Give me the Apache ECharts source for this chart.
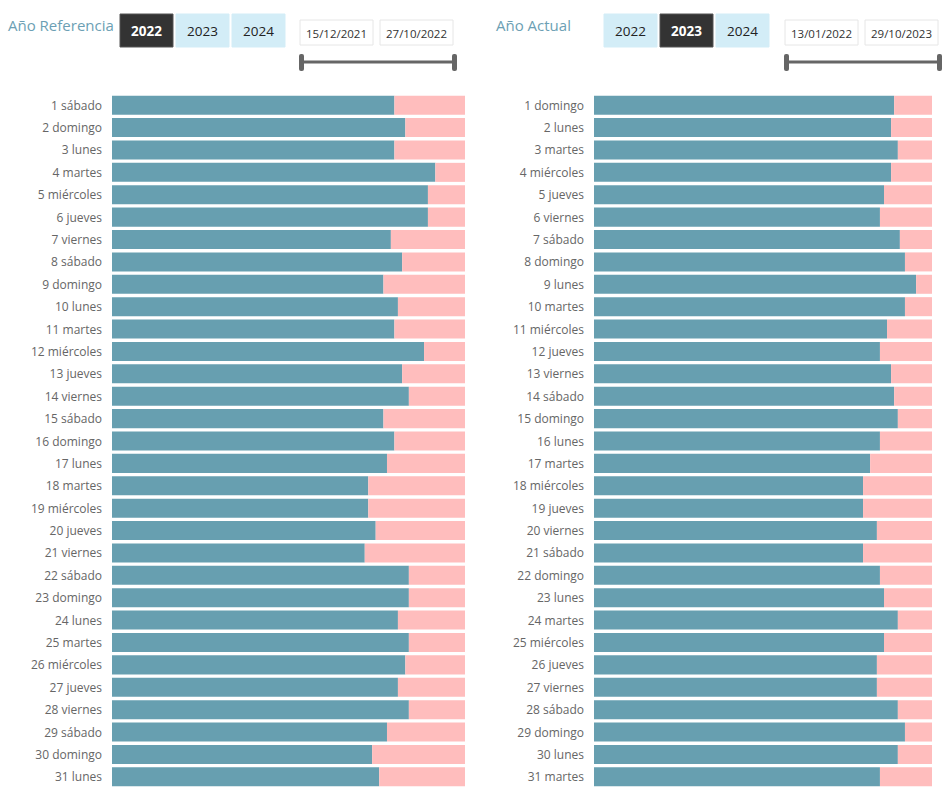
<!DOCTYPE html>
<html>
<head>
<meta charset="utf-8">
<script src="https://cdn.jsdelivr.net/npm/echarts@6/dist/echarts.min.js"></script>
<style>
  html, body { margin: 0; padding: 0; background: #fff; }
  #main { width: 945px; height: 800px; }
</style>
</head>
<body>
<div id="main"></div>
<script>
// dias del mes (referencia 2022 / actual 2023)
const refDays = ['1 sábado', '2 domingo', '3 lunes', '4 martes', '5 miércoles', '6 jueves', '7 viernes', '8 sábado',
  '9 domingo', '10 lunes', '11 martes', '12 miércoles', '13 jueves', '14 viernes', '15 sábado', '16 domingo',
  '17 lunes', '18 martes', '19 miércoles', '20 jueves', '21 viernes', '22 sábado', '23 domingo', '24 lunes',
  '25 martes', '26 miércoles', '27 jueves', '28 viernes', '29 sábado', '30 domingo', '31 lunes']
const actDays = ['1 domingo', '2 lunes', '3 martes', '4 miércoles', '5 jueves', '6 viernes', '7 sábado', '8 domingo',
  '9 lunes', '10 martes', '11 miércoles', '12 jueves', '13 viernes', '14 sábado', '15 domingo', '16 lunes',
  '17 martes', '18 miércoles', '19 jueves', '20 viernes', '21 sábado', '22 domingo', '23 lunes', '24 martes',
  '25 miércoles', '26 jueves', '27 viernes', '28 sábado', '29 domingo', '30 lunes', '31 martes']

// % cumplido (teal) por dia
const refDone = [80.0, 83.1, 80.0, 91.6, 89.5, 89.5, 79.0, 82.2, 76.9, 81.0, 80.0, 88.4, 82.2, 84.1, 76.9, 80.0,
  77.9, 72.6, 72.6, 74.7, 71.6, 84.1, 84.1, 81.0, 84.1, 83.1, 81.0, 84.1, 77.9, 73.7, 75.7]
const actDone = [88.8, 87.9, 89.9, 87.9, 85.8, 84.6, 90.5, 92.0, 95.3, 92.0, 86.7, 84.6, 87.9, 88.8, 89.9, 84.6,
  81.7, 79.6, 79.6, 83.7, 79.6, 84.6, 85.8, 89.9, 85.8, 83.7, 83.7, 89.9, 92.0, 89.9, 84.6]
// % restante (rosa)
const refRest = refDone.map(v => +(100 - v).toFixed(1))
const actRest = actDone.map(v => +(100 - v).toFixed(1))

const years = ['2022', '2023', '2024']
const refRange = ['15/12/2021', '27/10/2022']
const actRange = ['13/01/2022', '29/10/2023']

const TEAL = '#679fb0'
const PINK = '#ffbdbd'
const FONT = '"Segoe UI", "Open Sans", sans-serif'

const chart = echarts.init(document.getElementById('main'), null, { renderer: 'svg' })

function header(x0, title, selIdx, btnX, dateX, dates) {
  const els = []
  els.push({
    type: 'text', left: x0, top: 17,
    style: { text: title, fill: '#6c9fb4', font: '15px ' + FONT }
  })
  years.forEach((y, i) => {
    const bx = btnX + i * 56
    const sel = i === selIdx
    els.push({
      type: 'rect', shape: { x: bx, y: 14, width: 53, height: 33 },
      style: { fill: sel ? '#333333' : '#d3edf7', stroke: sel ? '#555' : '#d3edf7' }
    })
    els.push({
      type: 'text', x: bx + 26.5, y: 30.5,
      style: {
        text: y, fill: sel ? '#fff' : '#222', font: (sel ? 'bold ' : '') + '13.5px ' + FONT,
        align: 'center', verticalAlign: 'middle'
      }
    })
  })
  dates.forEach((d, i) => {
    const dx = dateX + i * 80
    els.push({
      type: 'rect', shape: { x: dx, y: 20, width: 73, height: 25 },
      style: { fill: '#fff', stroke: '#e6e6e6' }
    })
    els.push({
      type: 'text', x: dx + 36.5, y: 33.5,
      style: { text: d, fill: '#333', font: '11.5px ' + FONT, align: 'center', verticalAlign: 'middle' }
    })
  })
  const sx0 = dateX + 1
  const sx1 = dateX + 155
  els.push({
    type: 'line', shape: { x1: sx0, y1: 62, x2: sx1, y2: 62 },
    style: { stroke: '#666', lineWidth: 3 }
  })
  els.push({ type: 'rect', shape: { x: sx0 - 2, y: 54, width: 5, height: 17, r: 2 }, style: { fill: '#666' } })
  els.push({ type: 'rect', shape: { x: sx1 - 3, y: 54, width: 5, height: 17, r: 2 }, style: { fill: '#666' } })
  return els
}

function yAxis(gridIndex, data) {
  return {
    type: 'category', gridIndex: gridIndex, data: data, inverse: true,
    axisLine: { show: false }, axisTick: { show: false },
    axisLabel: { color: '#666', fontSize: 12, fontFamily: FONT, margin: 10 }
  }
}
function xAxis(gridIndex) {
  return { type: 'value', gridIndex: gridIndex, min: 0, max: 100, show: false }
}
function bar(name, idx, data, color) {
  return {
    name: name, type: 'bar', stack: 's' + idx, xAxisIndex: idx, yAxisIndex: idx,
    data: data, barCategoryGap: '15%', itemStyle: { color: color },
    silent: true, animation: false
  }
}

chart.setOption({
  animation: false,
  grid: [
    { left: 112, right: 480, top: 94, bottom: 12 },
    { left: 594, right: 13, top: 94, bottom: 12 }
  ],
  xAxis: [xAxis(0), xAxis(1)],
  yAxis: [yAxis(0, refDays), yAxis(1, actDays)],
  series: [
    bar('ref', 0, refDone, TEAL),
    bar('refRest', 0, refRest, PINK),
    bar('act', 1, actDone, TEAL),
    bar('actRest', 1, actRest, PINK)
  ],
  graphic: header(8, 'Año Referencia', 0, 120, 300, refRange)
    .concat(header(496, 'Año Actual', 1, 604, 785, actRange))
})
</script>
</body>
</html>
